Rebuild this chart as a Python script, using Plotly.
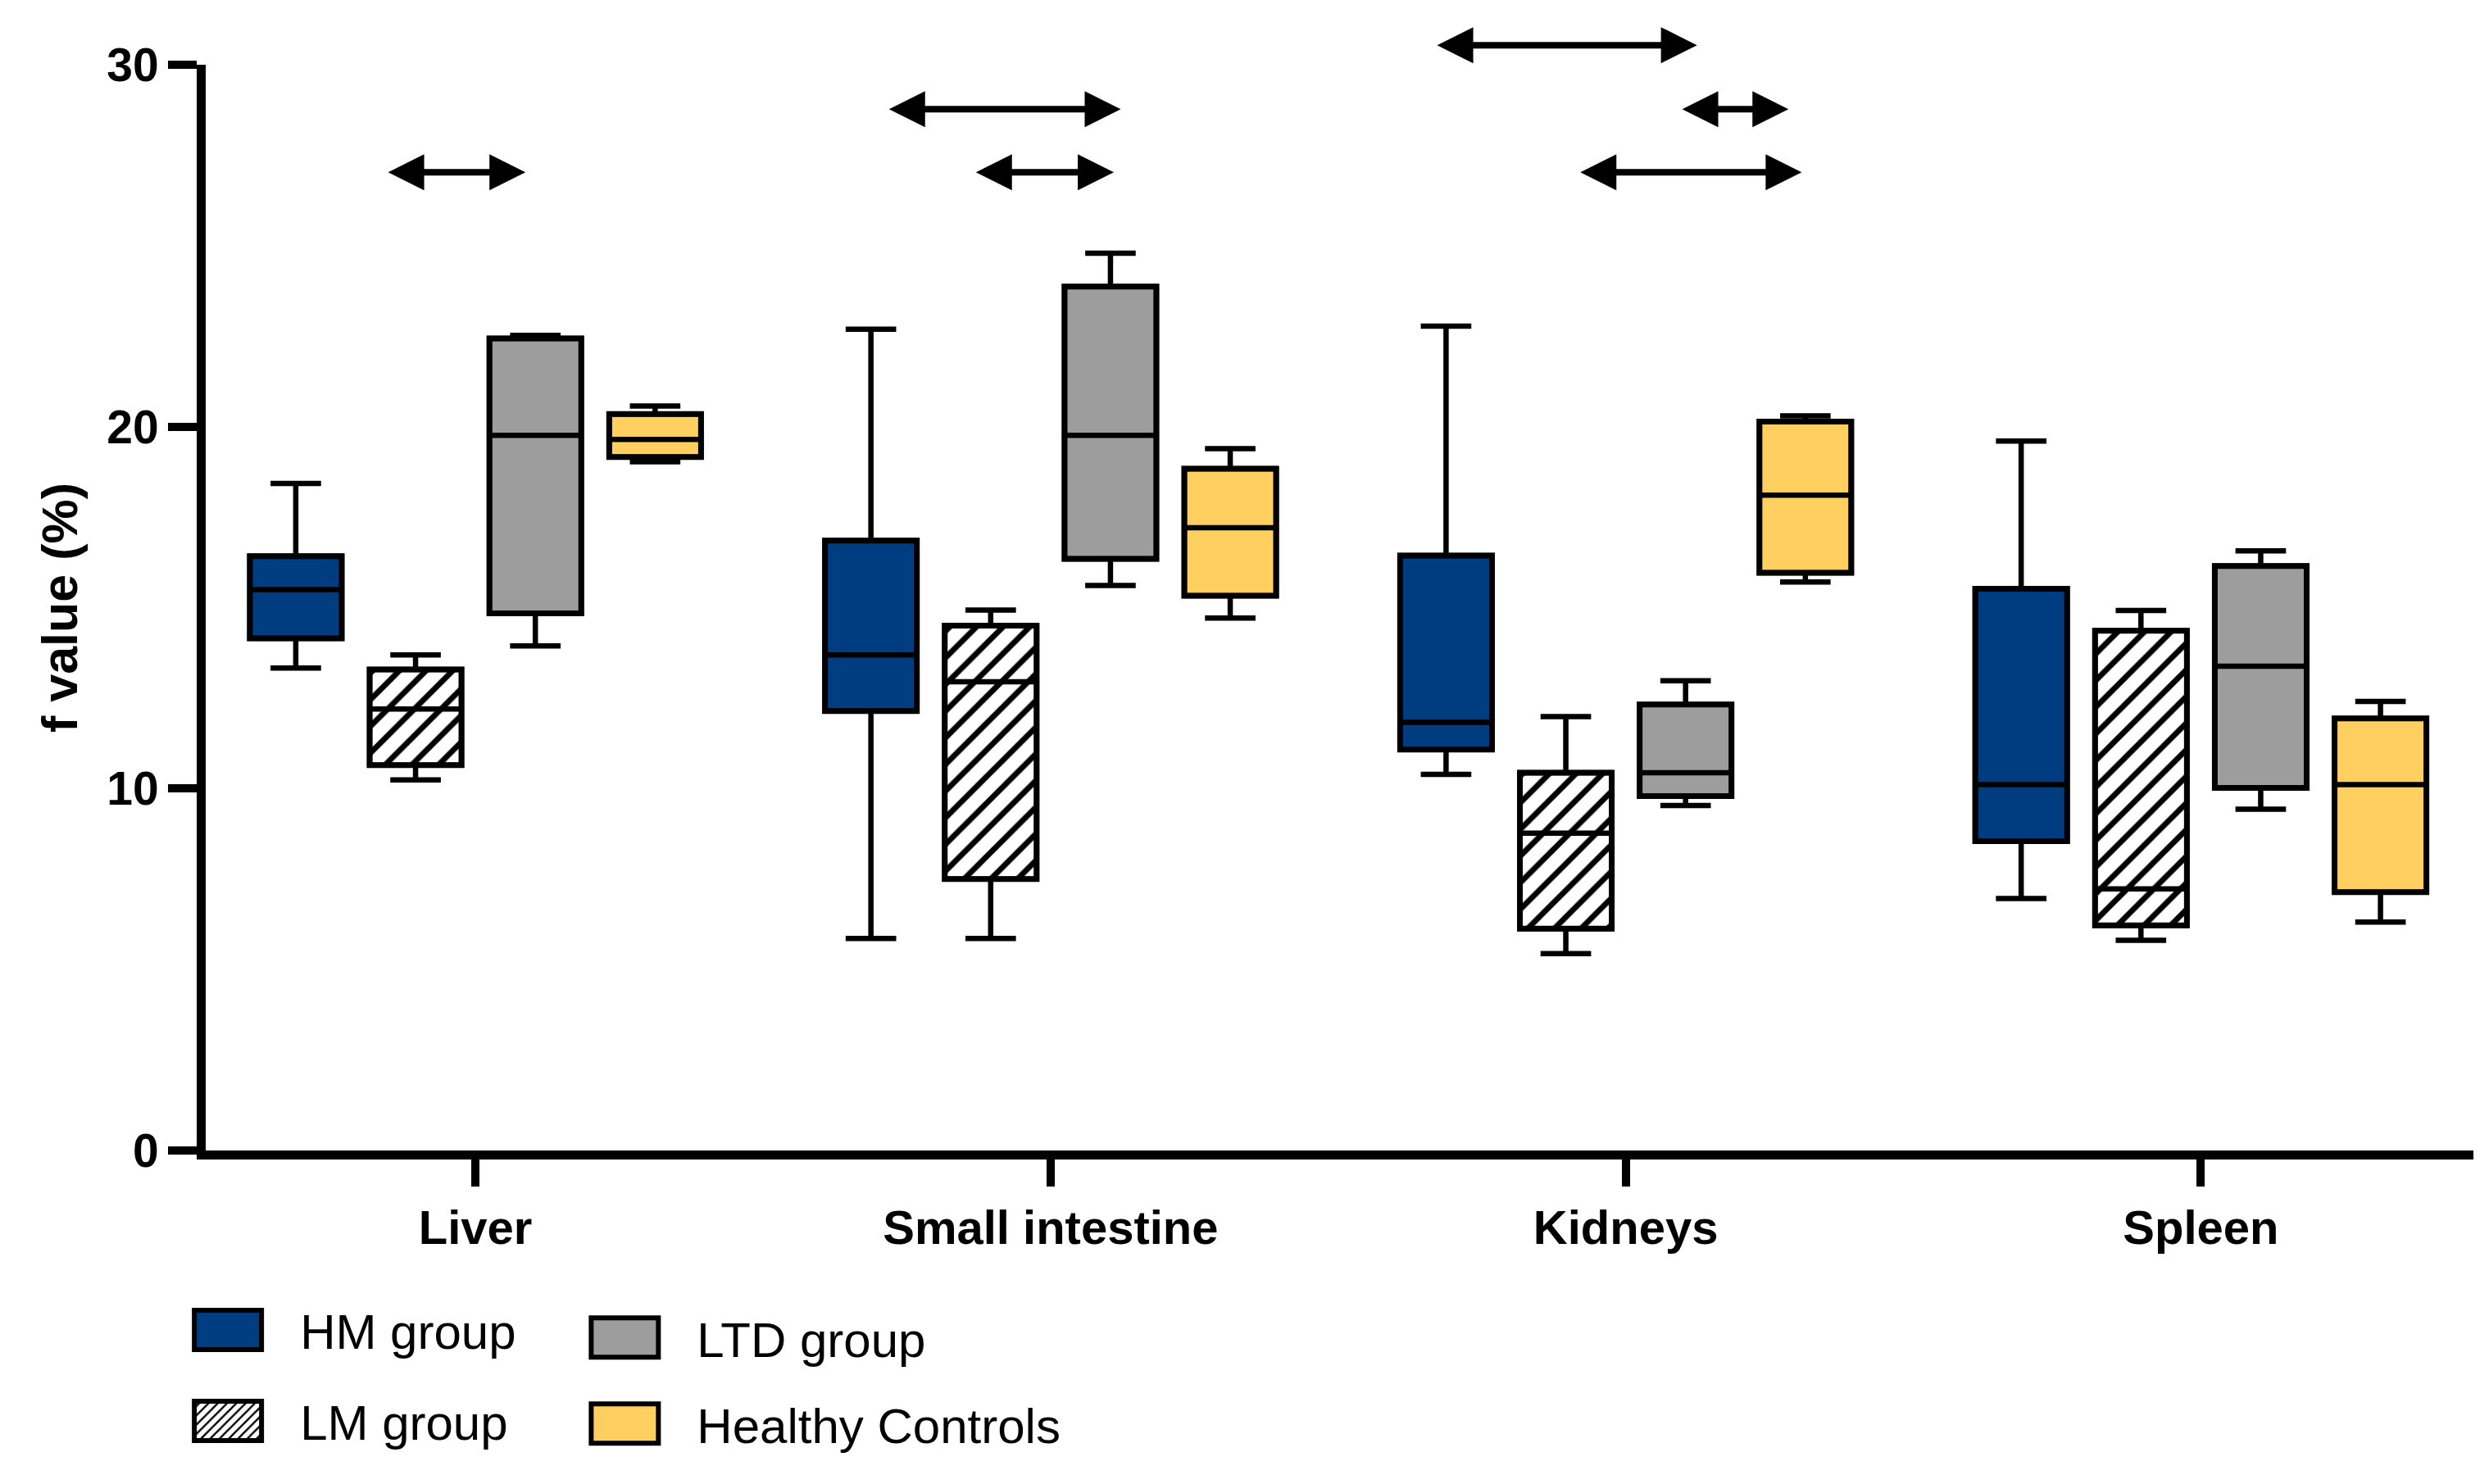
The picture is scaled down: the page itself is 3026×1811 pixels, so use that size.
import plotly.graph_objects as go

organs = ["Liver", "Small intestine", "Kidneys", "Spleen"]
group_names = ["HM group", "LM group", "LTD group", "Healthy Controls"]

# Box statistics per group (order follows organs)
hm_low = [13.33, 5.86, 10.39, 6.96]
hm_q1 = [14.15, 12.14, 11.08, 8.55]
hm_med = [15.50, 13.69, 11.83, 10.11]
hm_q3 = [16.42, 16.85, 16.44, 15.52]
hm_high = [18.43, 22.69, 22.78, 19.60]

lm_low = [10.24, 5.86, 5.44, 5.81]
lm_q1 = [10.65, 7.50, 6.13, 6.22]
lm_med = [12.20, 12.95, 8.77, 7.23]
lm_q3 = [13.29, 14.50, 10.44, 14.36]
lm_high = [13.69, 14.93, 11.99, 14.92]

ltd_low = [13.94, 15.61, 9.53, 9.43]
ltd_q1 = [14.84, 16.35, 9.79, 10.02]
ltd_med = [19.76, 19.76, 10.44, 13.38]
ltd_q3 = [22.44, 23.87, 12.32, 16.15]
ltd_high = [22.52, 24.79, 12.98, 16.57]

hc_low = [19.03, 14.71, 15.71, 6.31]
hc_q1 = [19.16, 15.33, 15.96, 7.14]
hc_med = [19.65, 17.21, 18.11, 10.11]
hc_q3 = [20.35, 18.84, 20.14, 11.94]
hc_high = [20.57, 19.39, 20.30, 12.41]

# Significance arrows (x in category units, y in f value %)
arrow_x0 = [-0.154, 0.717, 0.868, 1.670, 2.096, 1.919]
arrow_x1 = [0.087, 1.122, 1.110, 2.124, 2.283, 2.306]
arrow_y = [27.03, 28.77, 27.03, 30.54, 28.77, 27.03]

y_ticks = [0, 10, 20, 30]
y_max = 30

stats = [
    (hm_low, hm_q1, hm_med, hm_q3, hm_high),
    (lm_low, lm_q1, lm_med, lm_q3, lm_high),
    (ltd_low, ltd_q1, ltd_med, ltd_q3, ltd_high),
    (hc_low, hc_q1, hc_med, hc_q3, hc_high),
]
fills = ["#003d80", "white", "#9d9d9d", "#ffcf60"]
patterns = ["", "/", "", ""]
legends = ["legend", "legend", "legend2", "legend2"]

fig = go.Figure()

# Box bodies (fills, hatch) as floating bars
for name, (lo, q1, med, q3, hi), col, pat, lg in zip(group_names, stats, fills, patterns, legends):
    fig.add_trace(go.Bar(
        x=organs, y=[b - a for a, b in zip(q1, q3)], base=q1, name=name,
        legend=lg, legendgroup=name,
        marker=dict(color=col, line=dict(color="black", width=7),
                    pattern=dict(shape=pat, fgcolor="black", bgcolor="white",
                                 fgopacity=1, size=23, solidity=0.3)),
        hoverinfo="skip",
    ))

# Outlines, medians and whiskers
for name, (lo, q1, med, q3, hi) in zip(group_names, stats):
    fig.add_trace(go.Box(
        x=organs, q1=q1, median=med, q3=q3, lowerfence=lo, upperfence=hi,
        name=name, legendgroup=name, showlegend=False, boxpoints=False,
        fillcolor="rgba(0,0,0,0)", line=dict(color="black", width=6.5),
        whiskerwidth=0.55,
    ))

# y given as fraction of the y range so arrows above the top tick stay visible
for x0, x1, yv in zip(arrow_x0, arrow_x1, arrow_y):
    fig.add_annotation(
        x=x1, y=yv / y_max, ax=x0, ay=0, xref="x", yref="paper", axref="x", ayref="pixel",
        text="", showarrow=True, arrowside="end+start", arrowhead=2, startarrowhead=2,
        arrowsize=1.1, startarrowsize=1.1, arrowwidth=8, arrowcolor="black",
    )

font_family = "Arial, Liberation Sans, sans-serif"

fig.update_layout(
    width=3026, height=1811,
    margin=dict(l=251, r=8, t=79, b=407, autoexpand=False),
    plot_bgcolor="white", paper_bgcolor="white",
    font=dict(family=font_family, color="black"),
    barmode="group", bargap=0.167, bargroupgap=0.233,
    boxmode="group", boxgap=0.167, boxgroupgap=0.233,
    xaxis=dict(
        type="category", range=[-0.469, 3.474],
        showline=True, linecolor="black", linewidth=11,
        ticks="outside", ticklen=33, tickwidth=10, tickcolor="black",
        tickfont=dict(size=58, weight="bold", family=font_family),
        showgrid=False, zeroline=False,
    ),
    yaxis=dict(
        range=[0, y_max], tickvals=y_ticks,
        showline=True, linecolor="black", linewidth=11,
        ticks="outside", ticklen=35, tickwidth=10, tickcolor="black",
        tickfont=dict(size=57, weight="bold", family=font_family),
        showgrid=False, zeroline=False,
        title=dict(text="f value (%)", font=dict(size=61, weight="bold", family=font_family), standoff=20),
    ),
    legend=dict(
        x=-0.022, y=-0.131, xanchor="left", yanchor="top",
        font=dict(size=60, family=font_family), tracegroupgap=30, itemwidth=166,
        bgcolor="rgba(0,0,0,0)",
    ),
    legend2=dict(
        x=0.153, y=-0.138, xanchor="left", yanchor="top",
        font=dict(size=60, family=font_family), tracegroupgap=24, itemwidth=166,
        bgcolor="rgba(0,0,0,0)",
    ),
)

# remove the page's default body margin and enlarge the legend swatches
post = """
document.body.style.margin = '0';
var gd = document.getElementById('{plot_id}');
function bigSwatch() {
  gd.querySelectorAll('g.legendpoints path').forEach(function(p) {
    var d = (p.getAttribute('d') || '').replace(/\\s/g, '');
    if (d === 'M6,6H-6V-6H6Z') {
      p.setAttribute('d', 'M41,24H-41V-24H41Z');
      p.style.strokeWidth = '6px';
    }
  });
}
bigSwatch();
setTimeout(bigSwatch, 50);
setTimeout(bigSwatch, 300);
if (gd.on) { gd.on('plotly_afterplot', bigSwatch); }
"""

fig.write_html("out.html", post_script=post, config={"displayModeBar": False})
